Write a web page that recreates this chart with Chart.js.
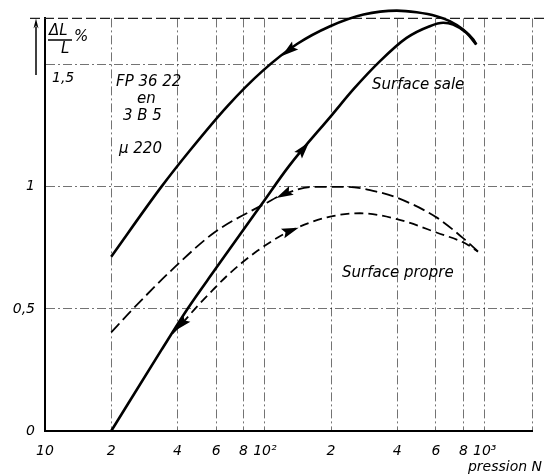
<!DOCTYPE html>
<html>
<head>
<meta charset="utf-8">
<script src="https://cdn.jsdelivr.net/npm/chart.js@4.4.1/dist/chart.umd.min.js"></script>
<style>
  html, body { margin: 0; padding: 0; background: #fff; }
</style>
</head>
<body>
<canvas id="chart" width="544" height="476"></canvas>
<script>
// ---- data (pression N, ΔL/L %) ----
const xTicks = [10, 20, 40, 60, 80, 100, 200, 400, 600, 800, 1000, 1640];
const xTickLabels = ['10', '2', '4', '6', '8', '10²', '2', '4', '6', '8', '10³', ''];
const yTicks = [0, 0.5, 1, 1.5];
const yTickLabels = ['0', '0,5', '1', '1,5'];

// surface sale, decreasing branch (upper solid)
const saleDownX = [20, 33.8, 45.4, 67.6, 97.4, 140, 198, 281, 398, 490, 603, 693, 797, 885, 915];
const saleDownY = [0.714, 1.0, 1.147, 1.331, 1.474, 1.585, 1.658, 1.706, 1.722, 1.715, 1.699, 1.679, 1.645, 1.604, 1.583];

// surface sale, increasing branch (lower solid)
const saleUpX = [20, 33.8, 44.6, 58.9, 97.4, 128.7, 202, 253, 334, 441, 562, 647, 718, 825, 915];
const saleUpY = [0, 0.331, 0.502, 0.657, 0.933, 1.085, 1.295, 1.40, 1.515, 1.610, 1.658, 1.672, 1.665, 1.631, 1.583];

// surface propre, decreasing branch (upper dashed)
const propreDownX = [20, 24.7, 38.8, 58.9, 99.2, 122, 167, 236, 334, 398, 603, 797, 931];
const propreDownY = [0.404, 0.493, 0.670, 0.813, 0.929, 0.970, 1.0, 1.0, 0.977, 0.956, 0.875, 0.790, 0.736];

// surface propre, increasing branch (lower dashed)
const propreUpX = [38, 42.3, 49.5, 57.9, 67.7, 79.1, 92.5, 108.1, 130.4, 191.8, 270.5, 398, 603, 825, 931];
const propreUpY = [0.40, 0.444, 0.513, 0.577, 0.638, 0.691, 0.738, 0.779, 0.820, 0.875, 0.892, 0.868, 0.813, 0.766, 0.734];

// arrow heads: which series, at which pression, pointing to lower (-1) or higher (+1) pression
const arrowSeries = [0, 1, 2, 3, 3];
const arrowAt = [128, 150, 122, 131, 41.5];
const arrowDir = [-1, 1, -1, 1, -1];

const FONT = '"DejaVu Sans"';

function pts(xs, ys) {
    return xs.map((x, i) => ({ x: x, y: ys[i] }));
}

function arrowHead(ctx, x, y, ang, len, w) {
    ctx.save();
    ctx.translate(x, y);
    ctx.rotate(ang);
    ctx.beginPath();
    ctx.moveTo(len / 2, 0);
    ctx.lineTo(-len / 2, w / 2);
    ctx.lineTo(-len / 2 + 3, 0);
    ctx.lineTo(-len / 2, -w / 2);
    ctx.closePath();
    ctx.fill();
    ctx.restore();
}

const decorPlugin = {
    id: 'decor',
    beforeDatasetsDraw(chart) {
        const ctx = chart.ctx;
        const y = chart.scales.y;
        const top = y.getPixelForValue(y.max);
        ctx.save();
        // dashed top frame line
        ctx.strokeStyle = '#222';
        ctx.lineWidth = 1.2;
        ctx.setLineDash([10, 4]);
        ctx.beginPath();
        ctx.moveTo(30, top);
        ctx.lineTo(544, top);
        ctx.stroke();
        ctx.setLineDash([]);
        // small arrow beside the y title
        ctx.lineWidth = 1.5;
        ctx.strokeStyle = '#000';
        ctx.fillStyle = '#000';
        ctx.beginPath();
        ctx.moveTo(36, 75);
        ctx.lineTo(36, top + 8);
        ctx.stroke();
        arrowHead(ctx, 36, top + 5, -Math.PI / 2, 10, 5);
        ctx.restore();
    },
    afterDatasetsDraw(chart) {
        const ctx = chart.ctx;
        const xs = chart.scales.x;
        ctx.save();
        ctx.fillStyle = '#000';
        arrowSeries.forEach((ds, k) => {
            const p = chart.getDatasetMeta(ds).data;
            const px = xs.getPixelForValue(arrowAt[k]);
            for (let i = 0; i < p.length - 1; i++) {
                if (px >= p[i].x && px <= p[i + 1].x) {
                    const t = (px - p[i].x) / (p[i + 1].x - p[i].x);
                    const py = p[i].y + t * (p[i + 1].y - p[i].y);
                    let ang = Math.atan2(p[i + 1].y - p[i].y, p[i + 1].x - p[i].x);
                    if (arrowDir[k] < 0) ang += Math.PI;
                    arrowHead(ctx, px, py, ang, 17, 10);
                    break;
                }
            }
        });
        ctx.restore();
    },
    afterDraw(chart) {
        const ctx = chart.ctx;
        const y = chart.scales.y;
        ctx.save();
        ctx.fillStyle = '#000';
        ctx.textBaseline = 'middle';
        ctx.textAlign = 'left';
        // y title ΔL / L %
        ctx.font = 'italic 15px ' + FONT;
        ctx.fillText('ΔL', 49, 31);
        ctx.fillText('L', 61, 49);
        ctx.fillText('%', 74, 37);
        ctx.lineWidth = 1.5;
        ctx.beginPath();
        ctx.moveTo(48, 40);
        ctx.lineTo(72, 40);
        ctx.stroke();
        // 1,5 label inside the plot
        ctx.font = 'italic 14px ' + FONT;
        ctx.fillText(yTickLabels[3], 52, y.getPixelForValue(1.5) + 14);
        // sample text
        ctx.font = 'italic 15px ' + FONT;
        ctx.fillText('FP 36 22', 116, 82);
        ctx.fillText('en', 137, 99);
        ctx.fillText('3 B 5', 123, 116);
        ctx.fillText('μ 220', 119, 149);
        ctx.fillText('Surface sale', 372, 85);
        ctx.fillText('Surface propre', 342, 273);
        ctx.font = 'italic 14px ' + FONT;
        ctx.textAlign = 'right';
        ctx.fillText('pression N', 542, 467);
        ctx.restore();
    }
};

const gridStyle = { color: 'rgba(0,0,0,0.55)', lineWidth: 1, drawTicks: false };
const borderStyle = { display: true, color: '#000', width: 2, dash: [9, 3, 2, 3] };

new Chart(document.getElementById('chart'), {
    type: 'scatter',
    data: {
        datasets: [
            {
                label: 'sale descente',
                data: pts(saleDownX, saleDownY),
                borderColor: '#000', borderWidth: 2.6
            },
            {
                label: 'sale montée',
                data: pts(saleUpX, saleUpY),
                borderColor: '#000', borderWidth: 2.6
            },
            {
                label: 'propre descente',
                data: pts(propreDownX, propreDownY),
                borderColor: '#000', borderWidth: 1.8, borderDash: [12, 5]
            },
            {
                label: 'propre montée',
                data: pts(propreUpX, propreUpY),
                borderColor: '#000', borderWidth: 1.8, borderDash: [9, 5]
            }
        ].map(d => Object.assign(d, {
            showLine: true,
            pointRadius: 0,
            cubicInterpolationMode: 'monotone',
            clip: false
        }))
    },
    options: {
        responsive: false,
        animation: false,
        devicePixelRatio: 1,
        layout: { padding: { top: 16, right: 8, left: 0, bottom: 0 } },
        plugins: {
            legend: { display: false },
            tooltip: { enabled: false }
        },
        scales: {
            x: {
                type: 'logarithmic',
                min: 10,
                max: 1640,
                afterBuildTicks: s => { s.ticks = xTicks.map(v => ({ value: v })); },
                afterFit: s => { s.height = 45; },
                ticks: {
                    autoSkip: false,
                    maxRotation: 0,
                    padding: 12,
                    color: '#000',
                    font: { family: 'DejaVu Sans', size: 14, style: 'italic' },
                    callback: (v, i) => xTickLabels[i]
                },
                grid: gridStyle,
                border: borderStyle
            },
            y: {
                min: 0,
                max: 1.69,
                afterBuildTicks: s => { s.ticks = yTicks.map(v => ({ value: v })); },
                afterFit: s => { s.width = 45; },
                ticks: {
                    padding: 10,
                    color: '#000',
                    font: { family: 'DejaVu Sans', size: 14, style: 'italic' },
                    callback: (v, i) => (i === 3 ? '' : yTickLabels[i])
                },
                grid: gridStyle,
                border: borderStyle
            }
        }
    },
    plugins: [decorPlugin]
});
</script>
</body>
</html>
